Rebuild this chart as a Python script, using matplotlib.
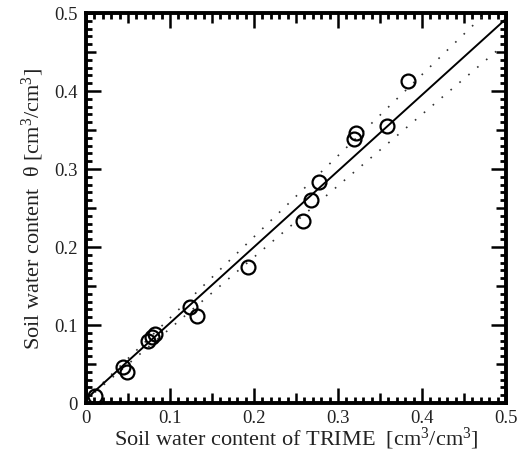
import numpy as np
import matplotlib
matplotlib.use("Agg")
import matplotlib.pyplot as plt
from matplotlib.ticker import MultipleLocator, FuncFormatter

plt.rcParams["font.family"] = ["Liberation Serif", "DejaVu Serif"]
plt.rcParams["mathtext.fontset"] = "custom"
plt.rcParams["mathtext.rm"] = "Liberation Serif"
plt.rcParams["mathtext.it"] = "Liberation Serif:italic"

# TRIME reading vs. measured volumetric water content
trime = [0.011, 0.0444, 0.0485, 0.0742, 0.0782, 0.0821, 0.1238, 0.1318,
         0.1932, 0.2587, 0.2679, 0.2774, 0.319, 0.3214, 0.3587, 0.383]
theta = [0.009, 0.0458, 0.0394, 0.0799, 0.0842, 0.0885, 0.1227, 0.1112,
         0.174, 0.2329, 0.2606, 0.283, 0.3385, 0.3458, 0.3555, 0.413]

# regression line and upper/lower bounds (slope, intercept)
fit_line = (0.975, 0.005)
upper_bound = (1.04, 0.005)
lower_bound = (0.915, 0.004)
fit_range = (0.007, 0.5)
bound_range = (0.0, 0.5)

fig = plt.figure(figsize=(5.24, 4.56), dpi=100)
ax = fig.add_axes([86 / 524, 1 - 404 / 456, 420 / 524, 390 / 456])

xf = np.array(fit_range)
ax.plot(xf, fit_line[0] * xf + fit_line[1], color="black", lw=1.4, zorder=3)
xb = np.array(bound_range)
for slope, icpt in (upper_bound, lower_bound):
    ax.plot(xb, slope * xb + icpt, color="#333333", lw=1.2,
            linestyle=(0, (1, 6)), zorder=2)

ax.plot(trime, theta, linestyle="none", marker="o", markersize=10,
        markerfacecolor="none", markeredgecolor="black", markeredgewidth=1.6,
        zorder=4)

ax.set_xlim(0, 0.5)
ax.set_ylim(0, 0.5)

fmt = FuncFormatter(lambda v, p: "" if round(v * 100) % 10 else
                    ("0" if abs(v) < 1e-9 else f"{v:.1f}"))
for axis in (ax.xaxis, ax.yaxis):
    axis.set_major_locator(MultipleLocator(0.05))
    axis.set_minor_locator(MultipleLocator(0.01))
    axis.set_major_formatter(fmt)

ax.tick_params(which="both", direction="in", top=True, right=True,
               labelsize=13.5, labelcolor="#222222")
ax.tick_params(axis="y", pad=6)
ax.tick_params(axis="x", pad=4)
ax.tick_params(which="major", length=11, width=1.8)
ax.tick_params(which="minor", length=4.5, width=2)

# half-way ticks a bit shorter than the labelled ones
for axis in (ax.xaxis, ax.yaxis):
    locs = axis.get_majorticklocs()
    for loc, tick in zip(locs, axis.get_major_ticks(len(locs))):
        if round(loc * 100) % 10:
            tick.tick1line.set_markersize(7)
            tick.tick2line.set_markersize(7)

for sp in ax.spines.values():
    sp.set_linewidth(2.8)

ax.set_xlabel("Soil water content of TRIME  [cm$^{3}$/cm$^{3}$]",
              fontsize=16, color="#222222")
ax.set_ylabel("Soil water content  θ [cm$^{3}$/cm$^{3}$]",
              fontsize=16, color="#222222")
ax.xaxis.label.set_va("center")
ax.yaxis.label.set_va("center")
ax.xaxis.set_label_coords(0.5, -0.09)
ax.yaxis.set_label_coords(-0.126, 0.5)

fig.savefig("out.png", dpi=100)
